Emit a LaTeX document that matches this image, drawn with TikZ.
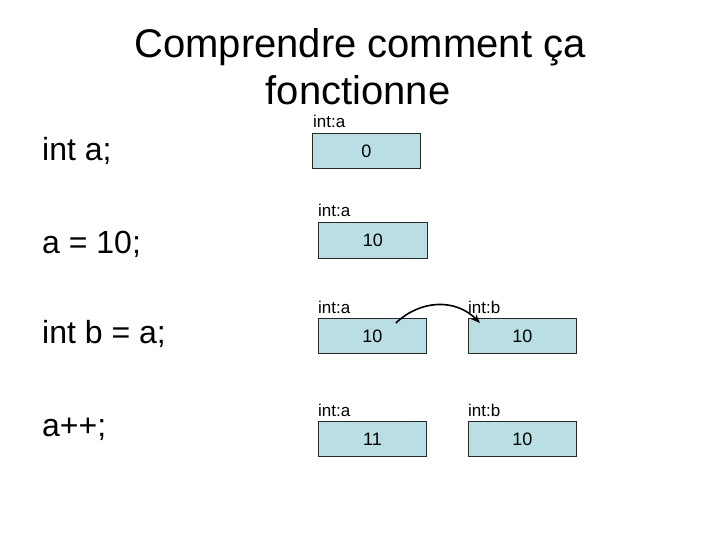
\documentclass[tikz,border=0pt]{standalone}
\usepackage{fontspec}
\setmainfont{Liberation Sans}
\usetikzlibrary{arrows.meta}
\definecolor{boxfill}{RGB}{185,222,228}
\definecolor{boxline}{RGB}{40,40,40}
\tikzset{
  titletext/.style={anchor=base,inner sep=0pt,font=\fontsize{40}{48}\selectfont},
  codetext/.style={anchor=base west,inner sep=0pt,font=\fontsize{32}{38}\selectfont},
  vartag/.style={anchor=base west,inner sep=0pt,font=\fontsize{17}{20}\selectfont},
  varbox/.style={draw=boxline,line width=0.9pt,fill=boxfill,anchor=north west,
    minimum width=108pt,minimum height=35pt,inner sep=0pt,font=\fontsize{18}{21}\selectfont},
  copyarrow/.style={line width=1.6pt,-{Stealth[length=9pt,width=7pt]}}
}
\begin{document}
\begin{tikzpicture}[x=1pt,y=-1pt]
\useasboundingbox (0,0) rectangle (720,540);
% title
\node[titletext] (t1) at (360,58) {Comprendre comment ça};
\node[titletext] (t2) at (358,105) {fonctionne};
% code lines
\node[codetext] (c1) at (42,161) {int a;};
\node[codetext] (c2) at (42,253) {a = 10;};
\node[codetext] (c3) at (42,343) {int b = a;};
\node[codetext] (c4) at (42,436) {a++;};
% row 1
\node[varbox] (a1) at (312,133) {0};
\node[vartag] (la1) at (313,128) {int:a};
% row 2
\node[varbox,minimum width=109pt,minimum height=36pt] (a2) at (318,222) {10};
\node[vartag] (la2) at (318,217) {int:a};
% row 3
\node[varbox] (a3) at (318,318) {10};
\node[vartag] (la3) at (318,313) {int:a};
\node[varbox] (b3) at (468,318) {10};
\node[vartag] (lb3) at (468,313) {int:b};
% row 4
\node[varbox] (a4) at (318,421) {11};
\node[vartag] (la4) at (318,416) {int:a};
\node[varbox] (b4) at (468,421) {10};
\node[vartag] (lb4) at (468,416) {int:b};
% copy arrow
\coordinate (s) at ([shift={(-31,5)}]a3.north east);
\coordinate (e) at ([shift={(12,5)}]b3.north west);
\draw[copyarrow] (s) .. controls (420,300) and (455,298) .. (e);
\end{tikzpicture}
\end{document}
